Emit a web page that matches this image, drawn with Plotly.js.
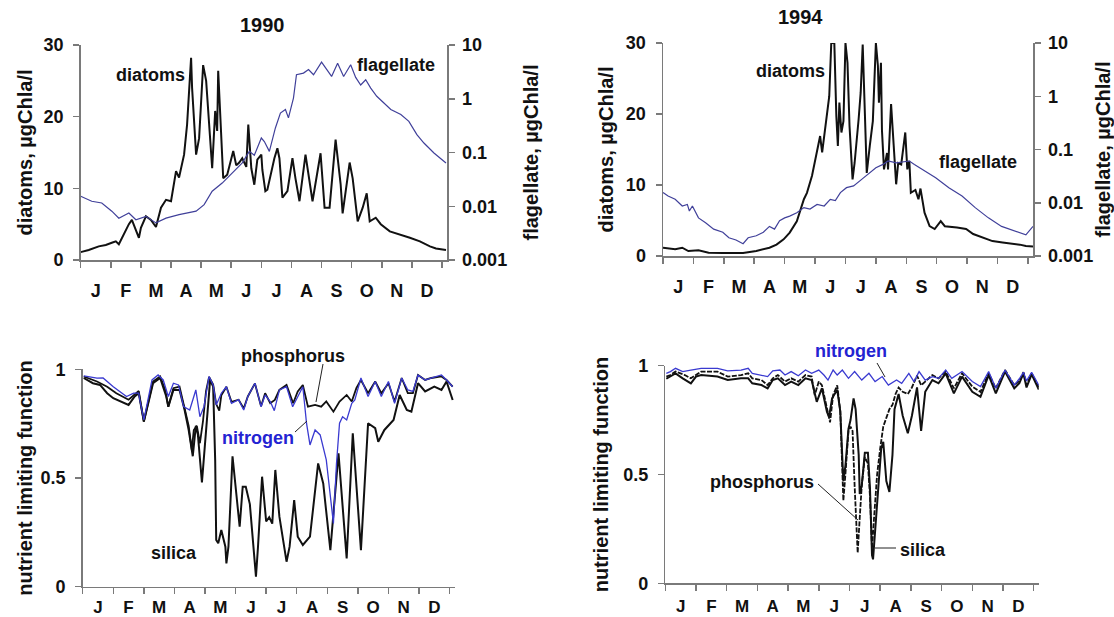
<!DOCTYPE html>
<html>
<head>
<meta charset="utf-8">
<script src="https://cdn.plot.ly/plotly-3.0.1.min.js"></script>
<style>html,body{margin:0;padding:0;background:#fff;}#chart{width:1114px;height:617px;}</style>
</head>
<body>
<div id="chart"></div>
<script>
// ---------- tick labels ----------
const months = ['J','F','M','A','M','J','J','A','S','O','N','D'];
const flagTickVals = [0.001, 0.01, 0.1, 1, 10];
const flagTickText = ['0.001', '0.01', '0.1', '1', '10'];

// ---------- 1990 phytoplankton : [day of year, value] ----------
const diatoms1990 = [[0,1.1],[8,1.4],[18,1.9],[25,2.1],[31,2.4],[35,2.6],[38,2.2],[43,3.6],[48,5.0],[51,5.6],[55,4.2],[58,3.1],[60,4.5],[65,6.1],[70,5.6],[75,4.6],[80,7.3],[85,8.4],[90,8.2],[95,12.4],[98,11.5],[103,14.7],[106,18.9],[110,28.2],[111,24.0],[115,14.7],[118,17.0],[122,27.2],[125,25.0],[128,19.4],[131,12.8],[134,20.8],[136,18.0],[137,26.4],[140,17.2],[142,11.4],[146,11.9],[152,15.2],[155,13.2],[158,13.6],[161,14.2],[165,13.0],[167,18.9],[170,12.8],[173,10.5],[176,14.0],[180,14.7],[181,12.6],[184,9.6],[186,9.8],[193,14.2],[196,15.6],[198,14.2],[201,8.7],[206,9.6],[211,14.2],[214,11.4],[218,8.2],[224,14.7],[228,11.0],[231,8.2],[239,14.9],[243,7.3],[248,7.3],[254,16.8],[259,10.6],[261,6.5],[268,13.6],[271,11.4],[276,5.4],[281,7.3],[285,9.3],[288,5.4],[294,5.9],[299,5.0],[308,4.0],[318,3.6],[328,3.1],[338,2.6],[348,1.9],[354,1.6],[364,1.4]];
const flagellate1990 = [[0,0.0153],[11,0.0124],[21,0.0115],[31,0.0081],[38,0.0060],[44,0.0068],[48,0.0075],[55,0.0056],[65,0.0065],[75,0.0049],[85,0.0060],[98,0.0070],[115,0.0081],[123,0.0107],[131,0.019],[141,0.027],[151,0.042],[161,0.064],[168,0.105],[173,0.089],[180,0.186],[183,0.16],[188,0.105],[194,0.286],[199,0.54],[204,0.63],[207,0.44],[212,1.03],[215,2.8],[222,3.0],[227,3.5],[232,2.8],[240,4.8],[245,3.5],[250,2.6],[256,4.6],[262,2.6],[269,4.3],[274,2.5],[279,1.8],[284,2.26],[289,1.58],[295,1.11],[309,0.63],[319,0.51],[327,0.38],[335,0.215],[342,0.15],[352,0.098],[364,0.064]];

// ---------- 1994 phytoplankton ----------
const diatoms1994 = [[0,1.17],[12,0.94],[19,1.17],[25,0.7],[35,0.8],[45,0.47],[59,0.42],[79,0.42],[92,0.7],[105,1.17],[112,1.6],[119,2.35],[125,3.3],[132,4.9],[139,8.0],[142,8.9],[147,11.3],[152,14.5],[155,16.9],[157,14.6],[160,17.8],[164,22.5],[166,30],[169,30],[171,19.7],[172.5,15.5],[174,21.6],[176,17.4],[178,19],[180,30],[182,27.2],[184,18.3],[187,10.8],[189,13.1],[193,19.3],[195,23],[197,29.8],[199,18.8],[201,11.7],[204,15.5],[207,19],[210,30],[212,26.8],[213,21.6],[215,27.2],[216,17.7],[218,12.2],[221,14.5],[222,12.2],[225,21.4],[228,14.1],[230,10.1],[232,13.1],[235,12.9],[239,17.4],[241,12.2],[243,13.4],[244.5,8.9],[249,9.3],[252,8.0],[254,9.5],[258,6.1],[263,4.2],[268,3.8],[274,4.9],[278,4.2],[290,4.0],[299,3.8],[306,3.1],[316,2.6],[325,2.1],[335,1.9],[343,1.8],[352,1.6],[358,1.4],[365,1.35]];
const flagellate1994 = [[0,0.0155],[5,0.0134],[12,0.0116],[19,0.0087],[24,0.0093],[26,0.0070],[29,0.0087],[35,0.0052],[42,0.0042],[50,0.0032],[59,0.0028],[65,0.0022],[72,0.0020],[79,0.0017],[84,0.0022],[92,0.0024],[99,0.0028],[105,0.0036],[110,0.0032],[115,0.0046],[120,0.0052],[125,0.0056],[132,0.0065],[139,0.0081],[145,0.0076],[152,0.0093],[159,0.0087],[165,0.0116],[170,0.0110],[175,0.0155],[181,0.0192],[188,0.0207],[196,0.0275],[204,0.0366],[210,0.0455],[217,0.0525],[222,0.0608],[230,0.0562],[243,0.0608],[248,0.0525],[256,0.0424],[269,0.0295],[282,0.0192],[295,0.0134],[308,0.0081],[321,0.0052],[334,0.0036],[342,0.0032],[350,0.0028],[358,0.0025],[365,0.0036]];

// ---------- 1990 nutrient limiting functions ----------
const nitrogen1990 = [[1,0.97],[4,0.967],[14,0.959],[20,0.96],[30,0.92],[43,0.875],[50,0.89],[55,0.89],[56,0.86],[60,0.767],[64,0.86],[68,0.951],[74,0.974],[79,0.951],[84,0.875],[89,0.936],[94,0.928],[99,0.828],[105,0.813],[111,0.905],[115,0.782],[119,0.828],[124,0.967],[128,0.928],[131,0.836],[136,0.89],[141,0.92],[146,0.844],[153,0.86],[158,0.813],[162,0.875],[169,0.936],[175,0.828],[179,0.882],[184,0.852],[188,0.81],[193,0.905],[200,0.92],[206,0.828],[211,0.875],[216,0.92],[219.6,0.752],[223,0.652],[228,0.721],[233,0.698],[239,0.583],[246,0.291],[249,0.567],[252,0.752],[255,0.782],[259,0.767],[264,0.844],[267,0.859],[273,0.96],[280,0.875],[287,0.944],[293,0.875],[300,0.944],[306,0.844],[313,0.96],[319,0.905],[324,0.898],[329,0.974],[336,0.951],[342,0.96],[352,0.974],[357,0.951],[363,0.92]];
const phosphorus1990 = [[1,0.967],[14,0.944],[24,0.92],[33,0.89],[45,0.86],[51,0.882],[55,0.9],[60,0.76],[64,0.845],[69,0.944],[76,0.967],[81,0.905],[84,0.828],[89,0.913],[95,0.92],[100,0.82],[104,0.74],[107,0.63],[109,0.72],[112,0.74],[115,0.66],[118,0.76],[121,0.9],[124,0.965],[128,0.93],[131,0.84],[134,0.81],[136,0.88],[141,0.92],[146,0.85],[153,0.86],[158,0.82],[162,0.875],[169,0.935],[175,0.83],[179,0.89],[184,0.844],[188.5,0.859],[193,0.905],[200,0.928],[206.5,0.844],[211,0.898],[216,0.928],[221,0.828],[228,0.836],[234,0.828],[239,0.852],[246,0.805],[252,0.852],[259,0.882],[264,0.852],[268.5,0.913],[273,0.951],[280,0.89],[287,0.944],[293,0.89],[300,0.936],[306,0.852],[313,0.96],[319,0.89],[324,0.89],[329,0.974],[336,0.951],[342,0.96],[352,0.967],[357,0.951],[363,0.92]];
const silica1990 = [[1,0.96],[10,0.936],[17,0.928],[24,0.89],[30,0.867],[37,0.852],[45,0.836],[51,0.875],[55,0.89],[60,0.76],[64,0.845],[69,0.936],[76,0.96],[82,0.875],[84,0.828],[89,0.905],[95,0.905],[100,0.813],[104,0.72],[108,0.6],[111,0.74],[113,0.7],[117,0.48],[120,0.67],[125,0.95],[128,0.92],[130,0.58],[131,0.215],[133,0.2],[136,0.261],[140,0.184],[141,0.107],[143,0.184],[147,0.6],[151,0.43],[154,0.276],[157,0.46],[160,0.46],[164,0.38],[170,0.046],[172,0.184],[176,0.506],[180,0.3],[183,0.32],[186,0.29],[189,0.537],[193,0.322],[200,0.115],[203,0.184],[207.5,0.398],[211,0.23],[216,0.192],[223,0.23],[231,0.567],[236,0.475],[243,0.168],[251,0.614],[259,0.13],[265,0.706],[273,0.168],[280,0.752],[287,0.729],[290,0.667],[296,0.721],[305,0.767],[311,0.882],[318,0.813],[322.5,0.805],[329,0.936],[336,0.898],[345,0.92],[352,0.905],[357,0.944],[363,0.859]];

// ---------- 1994 nutrient limiting functions ----------
const nitrogen1994 = [[1,0.965],[5,0.973],[10,0.988],[17,0.973],[25,0.98],[35,0.988],[51,0.988],[61,0.976],[74,0.98],[81,0.988],[85,0.965],[94,0.954],[100,0.95],[105,0.976],[112,0.98],[117,0.957],[123,0.973],[130,0.954],[137,0.98],[143,0.965],[150,0.98],[155,0.957],[159,0.934],[164,0.98],[168,0.957],[173,0.98],[179,0.942],[185,0.973],[192,0.934],[199,0.965],[205,0.927],[212,0.95],[218,0.911],[226,0.934],[231,0.919],[238,0.965],[243,0.927],[248,0.973],[254,0.934],[261,0.95],[267,0.942],[274,0.98],[280,0.942],[290,0.973],[300,0.927],[308,0.904],[316,0.973],[323,0.896],[332,0.98],[341,0.911],[346,0.94],[350,0.97],[353,0.93],[358,0.97],[365,0.91]];
const phosphorus1994 = [[1,0.95],[5,0.957],[10,0.973],[19,0.957],[25,0.942],[35,0.973],[51,0.973],[61,0.95],[74,0.957],[81,0.965],[85,0.942],[94,0.934],[100,0.911],[105,0.942],[110,0.957],[117,0.927],[123,0.942],[130,0.927],[137,0.957],[143,0.95],[146,0.865],[150,0.927],[153,0.911],[158,0.796],[161,0.74],[164,0.865],[168,0.91],[171,0.79],[174,0.38],[176,0.5],[179,0.7],[181,0.72],[183,0.7],[185,0.45],[187,0.2],[188,0.14],[190,0.3],[192,0.45],[195,0.58],[198,0.55],[200,0.4],[202,0.16],[204,0.3],[207,0.5],[210,0.62],[213,0.72],[216,0.76],[219,0.8],[222,0.82],[225,0.87],[228,0.9],[232,0.88],[237,0.87],[241,0.9],[246,0.955],[250,0.91],[254,0.927],[261,0.957],[267,0.942],[274,0.973],[282,0.896],[290,0.965],[300,0.904],[308,0.88],[316,0.965],[323,0.896],[332,0.98],[341,0.911],[346,0.93],[350,0.97],[353,0.91],[358,0.965],[365,0.9]];
const silica1994 = [[1,0.94],[5,0.95],[10,0.965],[17,0.942],[25,0.919],[30,0.95],[35,0.957],[51,0.95],[61,0.934],[74,0.942],[81,0.942],[85,0.919],[94,0.911],[100,0.896],[105,0.934],[110,0.942],[117,0.911],[123,0.927],[130,0.911],[137,0.942],[143,0.934],[148,0.834],[153,0.896],[158,0.788],[160,0.765],[163,0.85],[168,0.89],[171,0.79],[174,0.47],[176,0.54],[179,0.71],[181,0.75],[184,0.85],[186,0.8],[189,0.59],[190,0.41],[192,0.45],[195,0.6],[198,0.6],[200,0.44],[202,0.13],[203,0.11],[206,0.31],[211,0.62],[213,0.65],[216,0.47],[219,0.42],[222,0.59],[224,0.8],[228,0.87],[232,0.77],[237,0.69],[241,0.77],[246,0.9],[250,0.7],[254,0.88],[261,0.934],[267,0.919],[274,0.965],[282,0.873],[290,0.95],[300,0.88],[308,0.857],[316,0.957],[323,0.873],[332,0.973],[341,0.896],[346,0.92],[350,0.965],[353,0.9],[358,0.96],[365,0.89]];

// ---------- styling / layout helpers ----------
const W = 1114, H = 617;
const fx = p => p / W;          // pixel -> paper x
const fy = p => 1 - p / H;      // pixel -> paper y
const FONT = 'Arial, "Liberation Sans", sans-serif';
const AX = '#7a7a7a';
const BLK = '#111111';
const FLAG = '#40409a';
const NIT = '#3a3ad0';
const monthMid = months.map((m, i) => i * 30 + 15);

function tr(data, xa, ya, color, width, dash) {
  return {
    type: 'scatter', mode: 'lines',
    x: data.map(p => p[0]), y: data.map(p => p[1]),
    xaxis: xa, yaxis: ya,
    line: {color: color, width: width, dash: dash || 'solid'},
    hoverinfo: 'skip', showlegend: false
  };
}
function xAxis(dom, anchor, standoff, fsize) {
  return {
    domain: dom, anchor: anchor, range: [0, 365], fixedrange: true,
    showline: true, linecolor: AX, linewidth: 1.5, mirror: false,
    showgrid: false, zeroline: false,
    tickmode: 'array', tickvals: monthMid, ticktext: months, ticks: '',
    ticklabelstandoff: standoff,
    tickfont: {family: FONT, size: fsize, color: BLK, weight: 'bold'},
    minor: {tick0: 0, dtick: 30, ticks: 'outside', ticklen: 6, tickcolor: AX, tickwidth: 1.5, showgrid: false}
  };
}
function yAxis(dom, anchor, range, vals, texts, title, standoff) {
  return {
    domain: dom, anchor: anchor, range: range, fixedrange: true,
    showline: true, linecolor: AX, linewidth: 1.5,
    showgrid: false, zeroline: false,
    tickmode: 'array', tickvals: vals, ticktext: texts,
    ticks: 'outside', ticklen: 6, tickcolor: AX, tickwidth: 1.5,
    ticklabelstandoff: 6,
    tickfont: {family: FONT, size: 18, color: BLK, weight: 'bold'},
    title: {text: title, standoff: standoff, font: {family: FONT, size: 20, color: BLK, weight: 'bold'}}
  };
}
function yLog(over, anchor, title, standoff) {
  return {
    overlaying: over, side: 'right', anchor: anchor, type: 'log', range: [-3, 1], fixedrange: true,
    showline: true, linecolor: AX, linewidth: 1.5,
    showgrid: false, zeroline: false,
    tickmode: 'array', tickvals: flagTickVals, ticktext: flagTickText,
    ticks: 'outside', ticklen: 6, tickcolor: AX, tickwidth: 1.5,
    ticklabelstandoff: 4,
    tickfont: {family: FONT, size: 18, color: BLK, weight: 'bold'},
    title: {text: title, standoff: standoff, font: {family: FONT, size: 20, color: BLK, weight: 'bold'}}
  };
}

const traces = [
  tr(flagellate1990, 'x', 'y2', FLAG, 1.2),
  tr(diatoms1990, 'x', 'y', BLK, 2),
  tr(flagellate1994, 'x2', 'y4', FLAG, 1.2),
  tr(diatoms1994, 'x2', 'y3', BLK, 2),
  tr(silica1990, 'x3', 'y5', BLK, 2),
  tr(phosphorus1990, 'x3', 'y5', BLK, 1.8),
  tr(nitrogen1990, 'x3', 'y5', NIT, 1.3),
  tr(silica1994, 'x4', 'y6', BLK, 2),
  tr(phosphorus1994, 'x4', 'y6', BLK, 1.8, '5px,1.5px'),
  tr(nitrogen1994, 'x4', 'y6', NIT, 1.3)
];

function label(text, x, y, size, color) {
  return {text: text, xref: 'paper', yref: 'paper', x: fx(x), y: fy(y),
    xanchor: 'center', yanchor: 'middle', showarrow: false,
    font: {family: FONT, size: size, color: color || BLK, weight: 'bold'}};
}
function leader(x0, y0, x1, y1) {
  return {type: 'line', xref: 'paper', yref: 'paper', x0: fx(x0), y0: fy(y0), x1: fx(x1), y1: fy(y1),
    line: {color: '#222', width: 1}};
}

const layout = {
  width: W, height: H,
  margin: {l: 0, r: 0, t: 0, b: 0},
  paper_bgcolor: '#fff', plot_bgcolor: 'rgba(0,0,0,0)',
  showlegend: false,
  xaxis: xAxis([fx(80.7), fx(447)], 'y', 14, 18),
  yaxis: yAxis([fy(260), fy(45)], 'x', [0, 30], [0, 10, 20, 30], ['0', '10', '20', '30'], 'diatoms, µgChla/l', 5),
  yaxis2: yLog('y', 'x', 'flagellate, µgChla/l', 18),
  xaxis2: xAxis([fx(663), fx(1033)], 'y3', 14, 18),
  yaxis3: yAxis([fy(256), fy(43)], 'x2', [0, 30], [0, 10, 20, 30], ['0', '10', '20', '30'], 'diatoms, µgChla/l', 7),
  yaxis4: yLog('y3', 'x2', 'flagellate, µgChla/l', 6),
  xaxis3: xAxis([fx(82.7), fx(454.7)], 'y5', 4, 17),
  yaxis5: yAxis([fy(586.7), fy(369.3)], 'x3', [0, 1], [0, 0.5, 1], ['0', '0.5', '1'], 'nutrient limiting function', 2),
  xaxis4: xAxis([fx(665.3), fx(1038.8)], 'y6', 7, 17),
  yaxis6: yAxis([fy(583.3), fy(365.7)], 'x4', [0, 1], [0, 0.5, 1], ['0', '0.5', '1'], 'nutrient limiting function', 9),
  annotations: [
    label('1990', 262, 25, 20),
    label('1994', 800, 17, 20),
    label('diatoms', 150, 75, 18),
    label('flagellate', 396, 65, 18),
    label('diatoms', 790, 71, 18),
    label('flagellate', 978, 162, 18),
    label('phosphorus', 293, 356, 18),
    label('nitrogen', 258, 438, 18, '#2323d2'),
    label('silica', 174, 553, 18),
    label('nitrogen', 851, 351, 18, '#2323d2'),
    label('phosphorus', 762, 482, 18),
    label('silica', 923, 550, 18)
  ],
  shapes: [
    leader(323, 364, 316, 402),
    leader(295, 432, 307, 421),
    leader(818, 484, 858, 520),
    leader(875, 548, 896, 548),
    leader(877, 363, 885, 377)
  ]
};

Plotly.newPlot('chart', traces, layout, {displayModeBar: false, staticPlot: true});
</script>
</body>
</html>
